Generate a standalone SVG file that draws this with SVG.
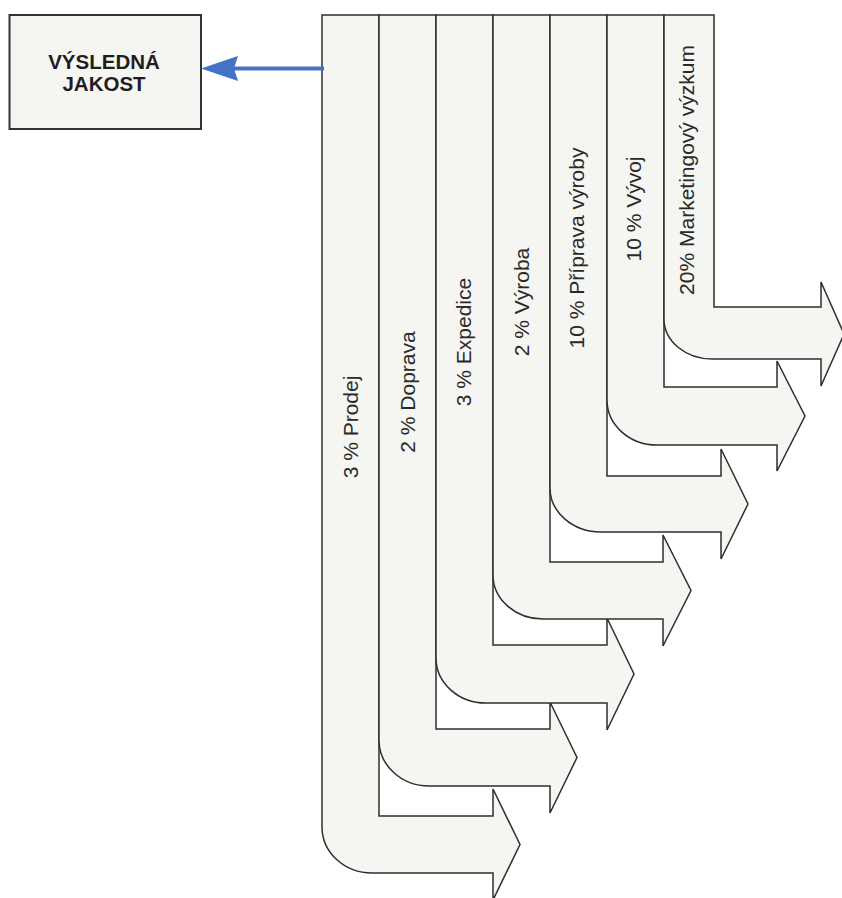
<svg xmlns="http://www.w3.org/2000/svg" width="842" height="898" viewBox="0 0 842 898">
  <style>
    .flow { fill: #f5f5f2; stroke: #2e2e2e; stroke-width: 1.5; stroke-linejoin: miter; }
    .lbl { font-family: "Liberation Sans", Arial, sans-serif; font-size: 21px; fill: #2a2a2a; text-anchor: middle; }
    .box { fill: #f5f5f2; stroke: #333333; stroke-width: 2; }
    .boxtxt { font-family: "Liberation Sans", Arial, sans-serif; font-size: 20.5px; font-weight: bold; fill: #1e1e1e; text-anchor: middle; }
    .conn { stroke: #4472c4; stroke-width: 4; fill: none; }
    .connhead { fill: #4472c4; }
  </style>
  <rect x="0" y="0" width="842" height="898" fill="#ffffff"/>

  <g id="result">
    <rect class="box" x="9.5" y="15" width="191.5" height="114"/>
    <text class="boxtxt" x="104" y="68.5">VÝSLEDNÁ</text>
    <text class="boxtxt" x="104" y="91">JAKOST</text>
  </g>

  <g id="arrow-prodej">
    <path class="flow" d="M322,15 H379 V816 H493 V789 L520,844.5 L493,900 V873 H372 A50,46 0 0 1 322,827 Z"/>
    <text class="lbl" transform="translate(358,427) rotate(-90)">3 % Prodej</text>
  </g>
  <g id="arrow-doprava">
    <path class="flow" d="M379,15 H436 V729 H550 V702 L577,757.5 L550,813 V786 H429 A50,46 0 0 1 379,740 Z"/>
    <text class="lbl" transform="translate(415,392) rotate(-90)">2 % Doprava</text>
  </g>
  <g id="arrow-expedice">
    <path class="flow" d="M436,15 H493 V645 H607 V618 L634,674 L607,730 V703 H486 A50,45 0 0 1 436,658 Z"/>
    <text class="lbl" transform="translate(471,342) rotate(-90)">3 % Expedice</text>
  </g>
  <g id="arrow-vyroba">
    <path class="flow" d="M493,15 H550 V562 H663 V535 L691,590.5 L663,646 V619 H543 A50,44 0 0 1 493,575 Z"/>
    <text class="lbl" transform="translate(528.5,302) rotate(-90)">2 % Výroba</text>
  </g>
  <g id="arrow-priprava">
    <path class="flow" d="M550,15 H607 V476 H721 V449 L748,504 L721,559 V532 H601 A51,44 0 0 1 550,488 Z"/>
    <text class="lbl" transform="translate(584,248) rotate(-90)">10 % Příprava výroby</text>
  </g>
  <g id="arrow-vyvoj">
    <path class="flow" d="M607,15 H664 V387 H777 V361 L805,416 L777,471 V445 H657 A50,45 0 0 1 607,400 Z"/>
    <text class="lbl" transform="translate(641,209) rotate(-90)">10 % Vývoj</text>
  </g>
  <g id="arrow-marketing">
    <path class="flow" d="M664,15 H714 V307 H821 V282 L844,334 L821,386 V359 H712 A48,40 0 0 1 664,319 Z"/>
    <text class="lbl" transform="translate(694,170) rotate(-90)">20% Marketingový výzkum</text>
  </g>

  <g id="connectors">
    <line class="conn" x1="324" y1="68.5" x2="232" y2="68.5"/>
    <polygon class="connhead" points="201,68.5 238,56 234,68.5 238,81"/>
  </g>
</svg>
